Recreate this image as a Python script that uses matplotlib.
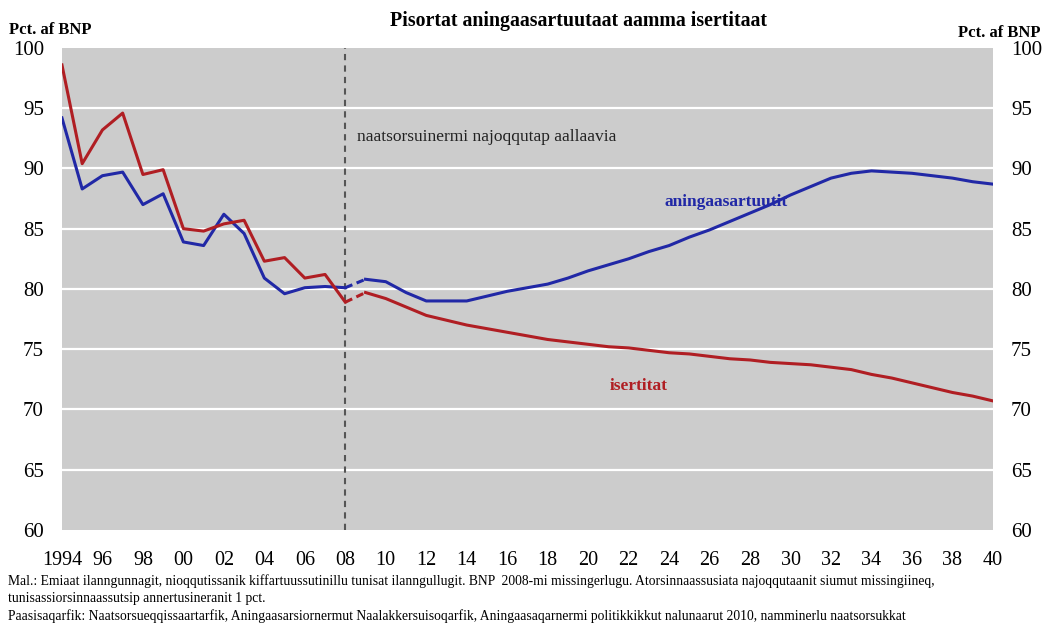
import numpy as np
import matplotlib
matplotlib.use("Agg")
import matplotlib.pyplot as plt

plt.rcParams['font.family'] = ['Liberation Serif', 'DejaVu Serif']

# historiske tal 1994-2008
aar_hist = list(range(1994, 2009))
udg_hist = [94.2, 88.3, 89.4, 89.7, 87.0, 87.9, 83.9, 83.6, 86.2, 84.6,
            80.9, 79.6, 80.1, 80.2, 80.1]
ind_hist = [98.6, 90.4, 93.2, 94.6, 89.5, 89.9, 85.0, 84.8, 85.4, 85.7,
            82.3, 82.6, 80.9, 81.2, 78.9]

# fremskrivning 2009-2040
aar_frem = list(range(2009, 2041))
udg_frem = [80.8, 80.6, 79.7, 79.0, 79.0, 79.0, 79.4, 79.8, 80.1, 80.4,
            80.9, 81.5, 82.0, 82.5, 83.1, 83.6, 84.3, 84.9, 85.6, 86.3,
            87.0, 87.8, 88.5, 89.2, 89.6, 89.8, 89.7, 89.6, 89.4, 89.2,
            88.9, 88.7]
ind_frem = [79.7, 79.2, 78.5, 77.8, 77.4, 77.0, 76.7, 76.4, 76.1, 75.8,
            75.6, 75.4, 75.2, 75.1, 74.9, 74.7, 74.6, 74.4, 74.2, 74.1,
            73.9, 73.8, 73.7, 73.5, 73.3, 72.9, 72.6, 72.2, 71.8, 71.4,
            71.1, 70.7]

xtick_aar = list(range(1994, 2041, 2))
xtick_txt = ["1994"] + [f"{a % 100:02d}" for a in xtick_aar[1:]]

blaa = "#2128a6"
roed = "#b01e23"

fig = plt.figure(figsize=(10.43, 6.24), dpi=100)
ax = fig.add_axes([0.0594, 0.151, 0.8926, 0.772])
ax.set_facecolor("#cccccc")

for v in range(65, 100, 5):
    ax.axhline(v, color="white", lw=1.6, zorder=1)

ax.axvline(2008, color="#555555", lw=1.5, ls=(0, (3, 2.5)), zorder=2)

ax.plot(aar_hist, udg_hist, color=blaa, lw=2.2, zorder=3)
ax.plot(aar_hist, ind_hist, color=roed, lw=2.2, zorder=3)
ax.plot([2008, 2009], [udg_hist[-1], udg_frem[0]], color=blaa, lw=2.2, ls=(0, (2.5, 1.5)), zorder=3)
ax.plot([2008, 2009], [ind_hist[-1], ind_frem[0]], color=roed, lw=2.2, ls=(0, (2.5, 1.5)), zorder=3)
ax.plot(aar_frem, udg_frem, color=blaa, lw=2.2, zorder=3)
ax.plot(aar_frem, ind_frem, color=roed, lw=2.2, zorder=3)

ax.set_xlim(1994, 2040)
ax.set_ylim(60, 100)
for s in ax.spines.values():
    s.set_visible(False)

ax.set_yticks(range(60, 101, 5))
ax.tick_params(axis="y", length=0, labelsize=15, pad=13, labelright=True)
ax.set_xticks(xtick_aar)
ax.set_xticklabels(xtick_txt)
ax.tick_params(axis="x", length=0, labelsize=14.5, pad=15)

ax.text(2008.6, 92.6, "naatsorsuinermi najoqqutap aallaavia", fontsize=12.5,
        color="#222222", ha="left", va="center")
ax.text(2026.8, 87.2, "aningaasartuutit", fontsize=12.5, color=blaa,
        fontweight="bold", ha="center", va="center")
ax.text(2022.5, 71.9, "isertitat", fontsize=12.5, color=roed,
        fontweight="bold", ha="center", va="center")

fig.text(0.555, 0.966, "Pisortat aningaasartuutaat aamma isertitaat", fontsize=14.3,
         fontweight="bold", ha="center", va="center")
fig.text(0.009, 0.952, "Pct. af BNP", fontsize=12, fontweight="bold", ha="left", va="center")
fig.text(0.998, 0.947, "Pct. af BNP", fontsize=12, fontweight="bold", ha="right", va="center")

fodnote = [
    "Mal.: Emiaat ilanngunnagit, nioqqutissanik kiffartuussutinillu tunisat ilanngullugit. BNP  2008-mi missingerlugu. "
    "Atorsinnaassusiata najoqqutaanit siumut missingiineq,",
    "tunisassiorsinnaassutsip annertusineranit 1 pct.",
    "Paasisaqarfik: Naatsorsueqqissaartarfik, Aningaasarsiornermut Naalakkersuisoqarfik, "
    "Aningaasaqarnermi politikkikkut nalunaarut 2010, namminerlu naatsorsukkat",
]
for i, linje in enumerate(fodnote):
    fig.text(0.008, 0.069 - i * 0.028, linje, fontsize=9.8, ha="left", va="center")

fig.savefig("out.png", dpi=100)
